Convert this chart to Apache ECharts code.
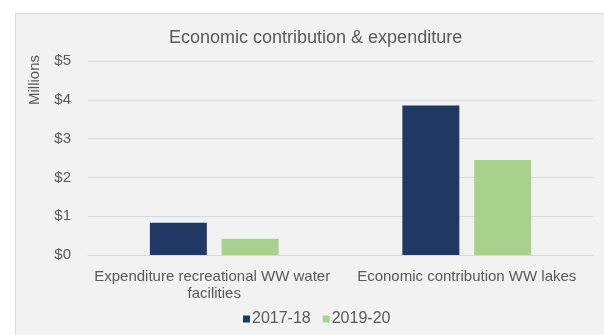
<!DOCTYPE html>
<html>
<head>
<meta charset="utf-8">
<script src="https://cdn.jsdelivr.net/npm/echarts@6/dist/echarts.min.js"></script>
<style>
html,body{margin:0;padding:0;background:#ffffff;width:604px;height:335px;overflow:hidden;}
#panel{position:absolute;left:15px;top:13px;width:600px;height:330px;background:#f2f2f2;border:1px solid #d9d9d9;box-sizing:border-box;}
#chart{position:absolute;left:0;top:0;width:604px;height:335px;}
</style>
</head>
<body>
<div id="panel"></div>
<div id="chart"></div>
<script>
var categories = ['Expenditure recreational WW water facilities', 'Economic contribution WW lakes'];
var seriesNames = ['2017-18', '2019-20'];
var values2017 = [0.83, 3.85];
var values2019 = [0.42, 2.45];
var yTicks = [0, 1, 2, 3, 4, 5];

var textColor = '#595959';
var font = 'Liberation Sans, Arial, sans-serif';

var chart = echarts.init(document.getElementById('chart'), null, {renderer: 'canvas'});
chart.setOption({
  backgroundColor: 'transparent',
  animation: false,
  title: {
    text: 'Economic contribution & expenditure',
    left: 164,
    top: 24,
    textStyle: {color: textColor, fontSize: 18, fontWeight: 'normal', fontFamily: font}
  },
  legend: {
    data: seriesNames,
    bottom: 3,
    left: 238,
    itemWidth: 7,
    itemHeight: 7,
    itemGap: 12,
    icon: 'rect',
    textStyle: {color: textColor, fontSize: 16, fontFamily: font, padding: [0, 0, 0, -3]}
  },
  graphic: [{
    type: 'text',
    left: 27,
    top: 55,
    rotation: Math.PI / 2,
    style: {text: 'Millions', fill: textColor, font: '15px ' + font}
  }],
  grid: {left: 88, right: 11, top: 61, bottom: 80, containLabel: false},
  xAxis: {
    type: 'category',
    data: categories,
    axisTick: {show: false},
    axisLine: {lineStyle: {color: '#d9d9d9'}},
    axisLabel: {
      color: textColor, fontSize: 15, fontFamily: font, interval: 0,
      width: 250, overflow: 'break', lineHeight: 17, margin: 13
    }
  },
  yAxis: {
    type: 'value',
    min: 0, max: 5, interval: 1,
    axisLine: {show: false},
    axisTick: {show: false},
    splitLine: {lineStyle: {color: '#d9d9d9'}},
    axisLabel: {
      color: textColor, fontSize: 15, fontFamily: font, margin: 17,
      formatter: function (v) { return yTicks.indexOf(v) >= 0 ? '$' + v : ''; }
    }
  },
  series: [
    {name: seriesNames[0], type: 'bar', data: values2017, barWidth: 57, barGap: '26%',
     itemStyle: {color: '#203864'}},
    {name: seriesNames[1], type: 'bar', data: values2019, barWidth: 57,
     itemStyle: {color: '#a9d18e'}}
  ]
});
</script>
</body>
</html>
